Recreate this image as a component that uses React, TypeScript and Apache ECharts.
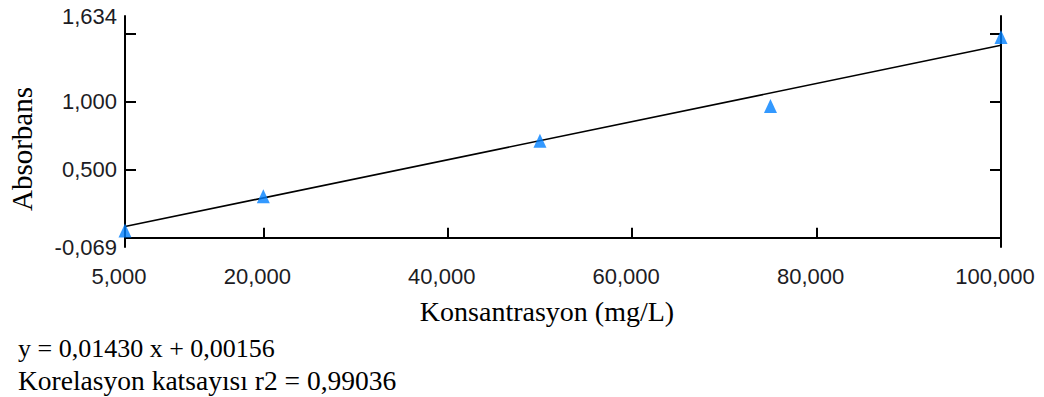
import React, { useEffect, useRef } from "react";
import * as echarts from "echarts";

const concentrations = [5, 20, 50, 75, 100];
const absorbances = [0.053, 0.305, 0.715, 0.970, 1.479];
const fitX = [5, 100];
const fitY = [0.082, 1.418];
const xLabelValues = [5, 20, 40, 60, 80, 100];
const xTickValues = [20, 40, 60, 80];
const yLabelValues = [-0.069, 0.5, 1.0, 1.634];
const yTickValues = [0, 0.5, 1.0, 1.5];
const yMin = -0.069;
const yMax = 1.634;
const xMin = 5;
const xMax = 100;
const xTitle = "Konsantrasyon (mg/L)";
const yTitle = "Absorbans";
const equationText = "y = 0,01430 x + 0,00156";
const correlationText = "Korelasyon katsayısı r2 = 0,99036";

const fmt = (v: number) => v.toFixed(3).replace(".", ",");

export default function App() {
  const ref = useRef<HTMLDivElement>(null);
  useEffect(() => {
    if (!ref.current) return;
    const chart = echarts.init(ref.current, null, { renderer: "svg" });
    const sans = "Liberation Sans";
    const serif = "Liberation Serif";
    const labelColor = "#1c1c24";
    chart.setOption({
      animation: false,
      backgroundColor: "#fff",
      grid: { left: 125, right: 43, top: 16, bottom: 150 },
      xAxis: [
        {
          type: "value",
          min: xMin,
          max: xMax,
          position: "bottom",
          splitLine: { show: false },
          axisLine: { show: true, lineStyle: { color: "#000", width: 2 } },
          axisTick: {
            show: true,
            inside: true,
            length: 10,
            customValues: xTickValues,
            lineStyle: { color: "#000", width: 2 },
          },
          axisLabel: {
            customValues: xLabelValues,
            formatter: (v: number) => fmt(v),
            fontFamily: sans,
            fontSize: 22,
            color: labelColor,
            margin: 18,
            padding: [0, 12, 0, 0],
          },
        },
        {
          type: "value",
          min: xMin,
          max: xMax,
          position: "top",
          splitLine: { show: false },
          axisLine: { show: true, lineStyle: { color: "#000", width: 2 } },
          axisTick: { show: false },
          axisLabel: { show: false },
        },
      ],
      yAxis: [
        {
          type: "value",
          min: yMin,
          max: yMax,
          position: "left",
          splitLine: { show: false },
          axisLine: { show: true, lineStyle: { color: "#000", width: 2 } },
          axisTick: {
            show: true,
            inside: true,
            length: 11,
            customValues: yTickValues,
            lineStyle: { color: "#000", width: 2 },
          },
          axisLabel: {
            customValues: yLabelValues,
            formatter: (v: number) => fmt(v),
            fontFamily: sans,
            fontSize: 22,
            color: labelColor,
            margin: 8,
            padding: [6, 0, 0, 0],
          },
        },
        {
          type: "value",
          min: yMin,
          max: yMax,
          position: "right",
          splitLine: { show: false },
          axisLine: { show: true, lineStyle: { color: "#000", width: 2 } },
          axisTick: {
            show: true,
            inside: true,
            length: 11,
            customValues: yTickValues,
            lineStyle: { color: "#000", width: 2 },
          },
          axisLabel: { show: false },
        },
      ],
      series: [
        {
          type: "line",
          data: fitX.map((x, i) => [x, fitY[i]]),
          showSymbol: false,
          symbol: "none",
          lineStyle: { color: "#000", width: 1.6 },
          z: 2,
        },
        {
          type: "scatter",
          data: concentrations.map((x, i) => [x, absorbances[i]]),
          symbol: "triangle",
          symbolSize: [13, 14],
          itemStyle: { color: "#0080ff" },
          z: 3,
        },
      ],
      graphic: [
        {
          type: "text",
          x: 22,
          y: 149,
          rotation: Math.PI / 2,
          style: {
            text: yTitle,
            fontFamily: serif,
            fontSize: 29,
            fill: "#000",
            textAlign: "center",
            textVerticalAlign: "middle",
          },
        },
        {
          type: "text",
          x: 547,
          y: 311,
          style: {
            text: xTitle,
            fontFamily: serif,
            fontSize: 28,
            fill: "#000",
            textAlign: "center",
            textVerticalAlign: "middle",
          },
        },
        {
          type: "text",
          x: 18,
          y: 348,
          style: {
            text: equationText,
            fontFamily: serif,
            fontSize: 26,
            fill: "#000",
            textAlign: "left",
            textVerticalAlign: "middle",
          },
        },
        {
          type: "text",
          x: 18,
          y: 380,
          style: {
            text: correlationText,
            fontFamily: serif,
            fontSize: 27.5,
            fill: "#000",
            textAlign: "left",
            textVerticalAlign: "middle",
          },
        },
      ],
    });
    return () => chart.dispose();
  }, []);
  return (
    <div
      ref={ref}
      style={{ position: "absolute", left: 0, top: 0, width: 1044, height: 397, background: "#fff" }}
    />
  );
}
